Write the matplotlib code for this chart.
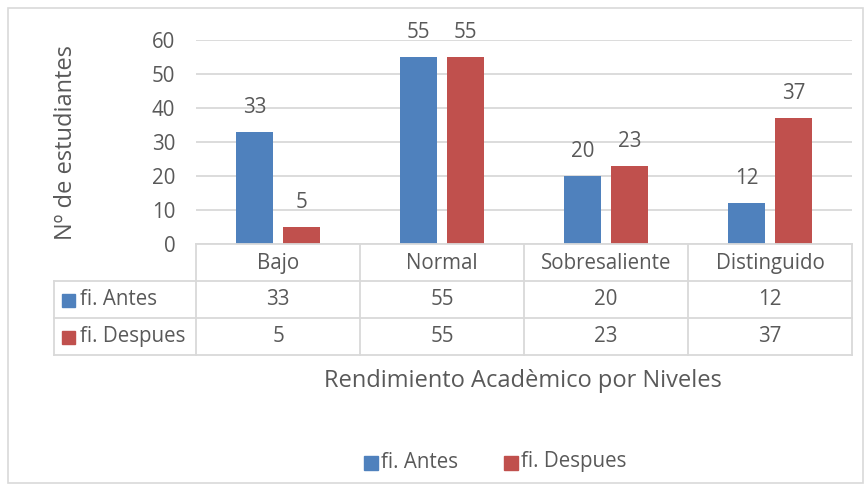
import matplotlib
matplotlib.use("Agg")
import matplotlib.pyplot as plt
from matplotlib.patches import Rectangle
from matplotlib.lines import Line2D

categories = ["Bajo", "Normal", "Sobresaliente", "Distinguido"]
series_names = ["fi. Antes", "fi. Despues"]
antes = [33, 55, 20, 12]
despues = [5, 55, 23, 37]
yticks = [0, 10, 20, 30, 40, 50, 60]
ylabel = "Nº de estudiantes"
xlabel = "Rendimiento Acadèmico por Niveles"

colors = ["#4f81bd", "#c0504d"]
txt = "#595959"
grid = "#d9d9d9"
plt.rcParams["font.family"] = ["Open Sans", "DejaVu Sans"]
FS = 14.8
TFS = 17

W, H = 867, 484
fig = plt.figure(figsize=(W / 100, H / 100), dpi=100)

def fx(px):
    return px / W

def fy(py):
    return 1 - py / H

# outer chart border
fig.add_artist(Rectangle((fx(8), fy(483)), fx(855), (475) / H, transform=fig.transFigure,
                         fill=False, edgecolor=grid, lw=1.2))

L, R, T, B = 196, 852, 40, 244
ax = fig.add_axes([fx(L), fy(B), (R - L) / W, (B - T) / H])
ax.set_xlim(0, len(categories))
ax.set_ylim(0, 60)
ax.set_yticks(yticks)
ax.yaxis.grid(True, color=grid, lw=1.3)
ax.set_axisbelow(True)
for s in ax.spines.values():
    s.set_visible(False)
ax.tick_params(axis="y", length=0, labelsize=FS, labelcolor=txt, pad=15)
ax.tick_params(axis="x", length=0, labelbottom=False)
ax.set_xticks([])

bw = 0.22
gap = 0.067
for i, vals in enumerate([antes, despues]):
    xs = [k + 0.5 + (i - 0.5) * (bw + gap) for k in range(len(categories))]
    bars = ax.bar(xs, vals, width=bw, color=colors[i], zorder=3)
    for b, v in zip(bars, vals):
        ax.annotate(str(v), (b.get_x() + b.get_width() / 2, v), xytext=(0, 10),
                    textcoords="offset points", ha="center", va="bottom",
                    fontsize=FS, color=txt)

ax.set_ylabel(ylabel, fontsize=TFS, color=txt)
ax.yaxis.set_label_coords((66 - L) / (R - L), 0.5)
ax.yaxis.label.set_verticalalignment("center")

# data table
row_h = 37
col_w = (R - L) / len(categories)
TL = 54
top = B
lw = 1.3
def hline(y, x0, x1):
    fig.add_artist(Line2D([fx(x0), fx(x1)], [fy(y), fy(y)], color=grid, lw=lw))
def vline(x, y0, y1):
    fig.add_artist(Line2D([fx(x), fx(x)], [fy(y0), fy(y1)], color=grid, lw=lw))

hline(top, L, R)
hline(top + row_h, TL, R)
hline(top + 2 * row_h, TL, R)
hline(top + 3 * row_h, TL, R)
vline(TL, top + row_h, top + 3 * row_h)
for k in range(len(categories) + 1):
    vline(L + k * col_w, top, top + 3 * row_h)

for k, c in enumerate(categories):
    fig.text(fx(L + (k + 0.5) * col_w), fy(top + row_h / 2 + 1), c, ha="center", va="center",
             fontsize=FS, color=txt)
for r, (name, vals) in enumerate(zip(series_names, [antes, despues])):
    yc = top + (r + 1.5) * row_h
    fig.add_artist(Rectangle((fx(62), fy(yc + 7)), fx(13), 13 / H, transform=fig.transFigure,
                             color=colors[r]))
    fig.text(fx(80), fy(yc), name, ha="left", va="center", fontsize=FS, color=txt)
    for k, v in enumerate(vals):
        fig.text(fx(L + (k + 0.5) * col_w), fy(yc), str(v), ha="center", va="center",
                 fontsize=FS, color=txt)

fig.text(fx(523), fy(381), xlabel, ha="center", va="center", fontsize=TFS, color=txt)

# legend
leg_items = [(364, series_names[0], colors[0]), (504, series_names[1], colors[1])]
for x0, name, col in leg_items:
    fig.add_artist(Rectangle((fx(x0), fy(470)), fx(14), 14 / H, transform=fig.transFigure,
                             color=col))
    fig.text(fx(x0 + 17), fy(462), name, ha="left", va="center", fontsize=FS, color=txt)

fig.savefig("out.png", dpi=100)
